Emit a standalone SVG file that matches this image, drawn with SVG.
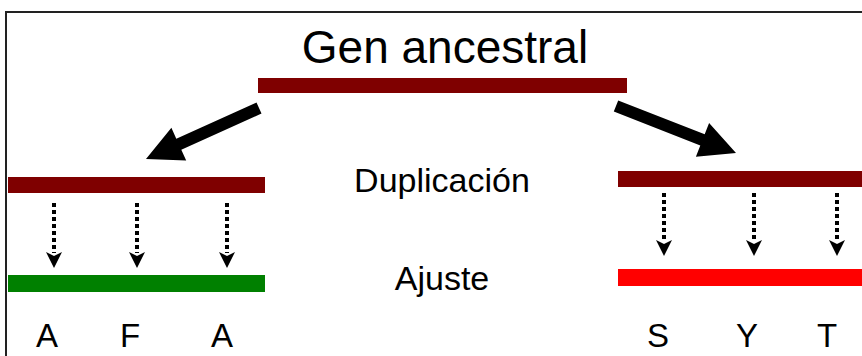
<svg xmlns="http://www.w3.org/2000/svg" width="862" height="356" viewBox="0 0 862 356">
<style>
text{font-family:"Liberation Sans",Arial,sans-serif;fill:#000;text-anchor:middle}
.dark{fill:#7f0000}
.dot{stroke:#000;stroke-width:4;stroke-dasharray:4 3;fill:none}
.big{fill:#000}
</style>
<defs>
<path id="head" d="M-8,0 L0,4 L8,0 L0,16 Z" fill="#000"/>
</defs>
<rect x="0" y="0" width="862" height="356" fill="#fff"/>
<path d="M6,356 V12 H862" fill="none" stroke="#222" stroke-width="2"/>
<g id="ancestral">
<text x="445" y="63" font-size="46">Gen ancestral</text>
<rect class="dark" x="258" y="78" width="369" height="15"/>
</g>
<g id="left-dup">
<rect class="dark" x="8" y="177" width="257" height="16"/>
</g>
<g id="left-adj">
<rect x="8" y="275" width="257" height="17" fill="#008000"/>
<text x="47" y="347" font-size="33">A</text>
<text x="130" y="347" font-size="33">F</text>
<text x="222" y="347" font-size="33">A</text>
</g>
<g id="right-dup">
<rect class="dark" x="618" y="171" width="244" height="16"/>
</g>
<g id="right-adj">
<rect x="618" y="269" width="244" height="17" fill="#ff0000"/>
<text x="658" y="347" font-size="33">S</text>
<text x="747" y="347" font-size="33">Y</text>
<text x="827" y="347" font-size="33">T</text>
</g>
<g id="labels">
<text x="442" y="192" font-size="34">Duplicación</text>
<text x="442" y="290" font-size="34">Ajuste</text>
</g>
<g id="connectors">
<polygon class="big" points="261.5,113.5 256.5,102.5 176.3,138.7 171.4,127.8 146,159 186.2,160.6 181.3,149.7"/>
<polygon class="big" points="613.8,111.6 618.2,100.4 704.7,134.3 709.1,123.1 736,153 695.9,156.7 700.3,145.5"/>
<line class="dot" x1="54" y1="203" x2="54" y2="253"/>
<use href="#head" x="54" y="252"/>
<line class="dot" x1="137" y1="203" x2="137" y2="253"/>
<use href="#head" x="137" y="252"/>
<line class="dot" x1="227" y1="203" x2="227" y2="253"/>
<use href="#head" x="227" y="252"/>
<line class="dot" x1="664" y1="193" x2="664" y2="241"/>
<use href="#head" x="664" y="240"/>
<line class="dot" x1="754" y1="193" x2="754" y2="241"/>
<use href="#head" x="754" y="240"/>
<line class="dot" x1="837" y1="193" x2="837" y2="241"/>
<use href="#head" x="837" y="240"/>
</g>
</svg>
